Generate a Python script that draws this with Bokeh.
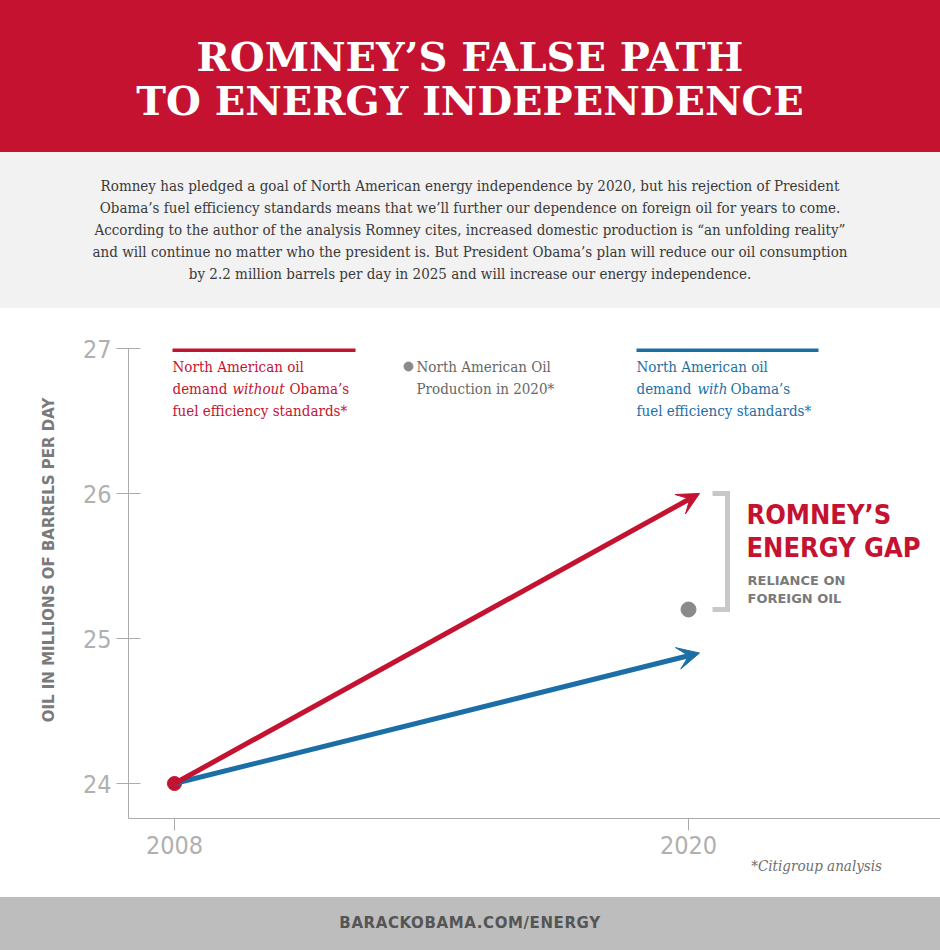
from bokeh.plotting import figure
from bokeh.models import Range1d, FixedTicker, Arrow, VeeHead, ColumnDataSource, Div
from bokeh.layouts import column
from bokeh.core.properties import value
from bokeh.embed import file_html
from bokeh.resources import INLINE

# ---------------- data ----------------
years = [2008, 2020]
demand_without = [24.0, 26.0]   # without Obama's fuel efficiency standards
demand_with = [24.0, 24.9]      # with Obama's fuel efficiency standards
production_year = [2020]
production_2020 = [25.2]        # North American oil production in 2020
y_ticks = [24, 25, 26, 27]
x_ticks = [2008, 2020]

RED = "#C41230"
BLUE = "#1B6FA6"
GRAY_DOT = "#8A8A8A"
BRACKET = "#C8C8C8"
TICK_GRAY = "#ABABAB"

# ---------------- frame geometry (pixels within the page) ----------------
FIG_TOP = 308
FIG_BOTTOM = 858
FL, FR, FT, FB = 128, 940, 348, 818
PX_PER_YEAR = (688 - 174) / 12.0
PX_PER_UNIT = 145.0
x_start = 2008 - (174 - FL) / PX_PER_YEAR
x_end = 2008 + (FR - 174) / PX_PER_YEAR
y_start = 24 - (FB - 783) / PX_PER_UNIT
y_end = 27.0
ARROW_OVERSHOOT = 11 / PX_PER_YEAR  # arrow tip drawn slightly past the last year


def X(px):
    return x_start + (px - FL) / PX_PER_YEAR


def Y(py):
    return 24 + (783 - py) / PX_PER_UNIT


p = figure(width=940, height=FIG_BOTTOM - FIG_TOP, x_range=Range1d(x_start, x_end),
           y_range=Range1d(y_start, y_end),
           output_backend="svg", toolbar_location=None,
           min_border_left=FL, min_border_right=0, min_border_top=FT - FIG_TOP,
           min_border_bottom=FIG_BOTTOM - FB, outline_line_color=None,
           background_fill_color="white", border_fill_color="white")
p.xgrid.visible = False
p.ygrid.visible = False

for ax in (p.xaxis[0], p.yaxis[0]):
    ax.axis_line_color = TICK_GRAY
    ax.major_tick_line_color = TICK_GRAY
    ax.minor_tick_line_color = None
    ax.major_label_text_font = "DejaVu Sans Condensed"
    ax.major_label_text_font_size = "25px"
    ax.major_label_text_color = "#B0B0B0"

p.yaxis.ticker = FixedTicker(ticks=y_ticks)
p.yaxis.major_tick_in = 12
p.yaxis.major_tick_out = 12
p.yaxis.major_label_standoff = 5
p.yaxis.axis_label = "\u00a0" * 9 + "OIL IN MILLIONS OF BARRELS PER DAY"
p.yaxis.axis_label_text_font = "DejaVu Sans"
p.yaxis.axis_label_text_font_style = "bold"
p.yaxis.axis_label_text_font_size = "15px"
p.yaxis.axis_label_text_color = "#7A7A7A"
p.yaxis.axis_label_standoff = 22

p.xaxis.ticker = FixedTicker(ticks=x_ticks)
p.xaxis.major_tick_in = 0
p.xaxis.major_tick_out = 12
p.xaxis.major_label_standoff = 5

# ---------------- series ----------------
head_blue = VeeHead(size=22, fill_color=BLUE, line_color=BLUE)
src_blue = ColumnDataSource(dict(x0=[years[0]], y0=[demand_with[0]],
                                 x1=[years[1] + ARROW_OVERSHOOT], y1=[demand_with[1]]))
p.add_layout(Arrow(end=head_blue, x_start="x0", y_start="y0", x_end="x1", y_end="y1",
                   source=src_blue, line_color=BLUE, line_width=5))

head_red = VeeHead(size=22, fill_color=RED, line_color=RED)
src_red = ColumnDataSource(dict(x0=[years[0]], y0=[demand_without[0]],
                                x1=[years[1] + ARROW_OVERSHOOT], y1=[demand_without[1]]))
p.add_layout(Arrow(end=head_red, x_start="x0", y_start="y0", x_end="x1", y_end="y1",
                   source=src_red, line_color=RED, line_width=5))

p.scatter(years[:1], demand_without[:1], size=14, color=RED)
p.scatter(production_year, production_2020, size=15, color=GRAY_DOT)

# bracket showing the gap
top_v = demand_without[1]
bot_v = production_2020[0]
p.line([X(712), X(727), X(727), X(712)], [top_v, top_v, bot_v, bot_v],
       line_width=5, color=BRACKET, line_join="miter")

SERIF = value("DejaVu Serif Condensed")


def txt(px, py, s, color, font=SERIF, size="15px", style="normal", align="left"):
    p.text([X(px)], [Y(py)], text=[s], text_font=font, text_font_size=size,
           text_font_style=style, text_color=color, text_align=align, text_baseline="middle")


# legend: red
p.line([X(172), X(355)], [Y(349), Y(349)], line_width=5, color=RED)
txt(172, 366, "North American oil", RED)
txt(172, 388, "demand", RED)
txt(232, 388, "without", RED, style="italic")
txt(289, 388, "Obama’s", RED)
txt(172, 410, "fuel efficiency standards*", RED)

# legend: production dot
p.scatter([X(408)], [Y(366)], size=9, color=GRAY_DOT)
txt(416, 366, "North American Oil", "#666666")
txt(416, 388, "Production in 2020*", "#666666")

# legend: blue
p.line([X(636), X(818)], [Y(349), Y(349)], line_width=5, color=BLUE)
txt(636, 366, "North American oil", BLUE)
txt(636, 388, "demand", BLUE)
txt(697, 388, "with", BLUE, style="italic")
txt(730, 388, "Obama’s", BLUE)
txt(636, 410, "fuel efficiency standards*", BLUE)

# gap annotation
COND = value("DejaVu Sans Condensed")
txt(746, 514, "ROMNEY’S", RED, font=COND, size="27px", style="bold")
txt(746, 547, "ENERGY GAP", RED, font=COND, size="27px", style="bold")
txt(747, 580, "RELIANCE ON", "#7A7A7A", font=value("DejaVu Sans"), size="13px", style="bold")
txt(747, 598, "FOREIGN OIL", "#7A7A7A", font=value("DejaVu Sans"), size="13px", style="bold")

# ---------------- page bands ----------------
title_html = (
    '<div style="width:940px;height:152px;background:#C41230;color:white;text-align:center;'
    'font-family:\'DejaVu Serif\';font-weight:bold;font-size:40px;line-height:44px;'
    'box-sizing:border-box;padding-top:35px;">'
    'ROMNEY’S FALSE PATH<br>TO ENERGY INDEPENDENCE</div>'
)
desc_html = (
    '<div style="width:940px;height:156px;background:#F2F2F2;color:#3A3A3A;text-align:center;'
    'font-family:\'DejaVu Serif Condensed\';font-size:15px;line-height:22px;'
    'box-sizing:border-box;padding-top:23px;">'
    'Romney has pledged a goal of North American energy independence by 2020, but his rejection of President<br>'
    'Obama’s fuel efficiency standards means that we’ll further our dependence on foreign oil for years to come.<br>'
    'According to the author of the analysis Romney cites, increased domestic production is “an unfolding reality”<br>'
    'and will continue no matter who the president is. But President Obama’s plan will reduce our oil consumption<br>'
    'by 2.2 million barrels per day in 2025 and will increase our energy independence.</div>'
)
note_html = (
    '<div style="width:940px;height:39px;background:white;color:#6E6E6E;text-align:right;'
    'font-family:\'DejaVu Serif Condensed\';font-style:italic;font-size:15px;line-height:16px;'
    'box-sizing:border-box;padding-right:58px;padding-top:0px;">*Citigroup analysis</div>'
)
foot_html = (
    '<div style="width:940px;height:53px;background:#BDBDBD;color:#555555;text-align:center;'
    'font-family:\'DejaVu Sans\';font-weight:bold;font-size:15px;letter-spacing:0.6px;line-height:53px;">'
    'BARACKOBAMA.COM/ENERGY</div>'
)

title_div = Div(text=title_html, width=940, height=152, margin=0)
desc_div = Div(text=desc_html, width=940, height=156, margin=0)
note_div = Div(text=note_html, width=940, height=39, margin=0)
foot_div = Div(text=foot_html, width=940, height=53, margin=0)

layout = column(title_div, desc_div, p, note_div, foot_div, spacing=0)

open("out.html", "w").write(file_html(layout, INLINE))
